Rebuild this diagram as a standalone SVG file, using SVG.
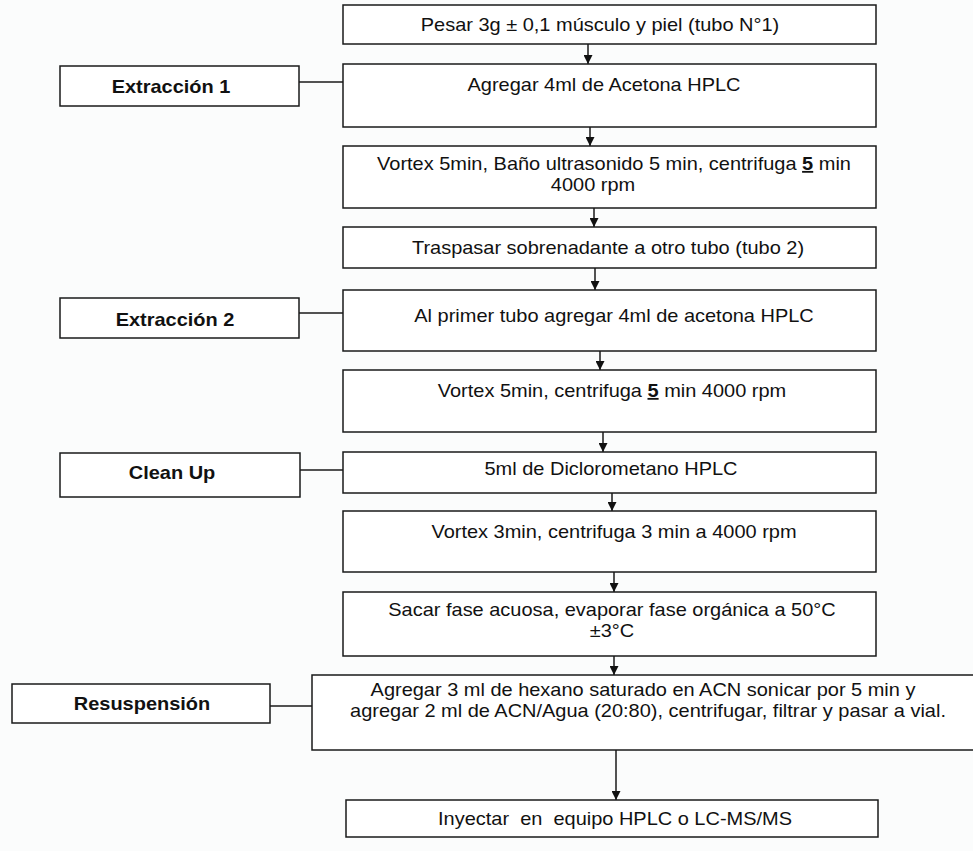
<svg xmlns="http://www.w3.org/2000/svg" width="973" height="851" viewBox="0 0 973 851">
<style>
.box{fill:#ffffff;stroke:#1a1a1a;stroke-width:1.5}
.t{font-family:"Liberation Sans",Arial,sans-serif;font-size:18px;fill:#111;text-anchor:middle}
.b{font-family:"Liberation Sans",Arial,sans-serif;font-size:18px;font-weight:bold;fill:#111;text-anchor:middle}
.c{stroke:#1a1a1a;stroke-width:1.5;fill:none}
.u{font-weight:bold;text-decoration:underline}
.pre{white-space:pre}
</style>
<defs>
<marker id="ah" viewBox="0 0 10 10" refX="10" refY="5" markerWidth="9" markerHeight="9" markerUnits="userSpaceOnUse" orient="auto">
<path d="M0,0 L10,5 L0,10 Z" fill="#111"/>
</marker>
</defs>
<rect width="973" height="851" fill="#fbfcfc"/>
<g id="connectors">
<line class="c" x1="588" y1="44" x2="588" y2="64" marker-end="url(#ah)"/>
<line class="c" x1="590" y1="127" x2="590" y2="146" marker-end="url(#ah)"/>
<line class="c" x1="594" y1="208" x2="594" y2="227" marker-end="url(#ah)"/>
<line class="c" x1="595" y1="268" x2="595" y2="290" marker-end="url(#ah)"/>
<line class="c" x1="600" y1="351" x2="600" y2="370" marker-end="url(#ah)"/>
<line class="c" x1="603" y1="432" x2="603" y2="452" marker-end="url(#ah)"/>
<line class="c" x1="612" y1="493" x2="612" y2="511" marker-end="url(#ah)"/>
<line class="c" x1="614" y1="572" x2="614" y2="592" marker-end="url(#ah)"/>
<line class="c" x1="614" y1="656" x2="614" y2="675" marker-end="url(#ah)"/>
<line class="c" x1="616" y1="750" x2="616" y2="800" marker-end="url(#ah)"/>
<line class="c" x1="299" y1="82" x2="343" y2="82"/>
<line class="c" x1="299" y1="313" x2="343" y2="313"/>
<line class="c" x1="300" y1="470" x2="343" y2="470"/>
<line class="c" x1="270" y1="706" x2="312" y2="706"/>
</g>
<g id="n1"><rect class="box" x="343" y="5" width="533" height="39"/><text class="t" transform="translate(600,31) scale(1.11,1)">Pesar 3g ± 0,1 músculo y piel (tubo N°1)</text></g>
<g id="n2"><rect class="box" x="343" y="64" width="533" height="63"/><text class="t" transform="translate(604,91) scale(1.11,1)">Agregar 4ml de Acetona HPLC</text></g>
<g id="ext1"><rect class="box" x="60" y="66" width="239" height="40"/><text class="b" transform="translate(171,93) scale(1.11,1)">Extracción 1</text></g>
<g id="n3"><rect class="box" x="343" y="146" width="533" height="62"/><text class="t" transform="translate(614,170) scale(1.11,1)">Vortex 5min, Baño ultrasonido 5 min, centrifuga <tspan class="u">5</tspan> min</text><text class="t" transform="translate(593,191) scale(1.11,1)">4000 rpm</text></g>
<g id="n4"><rect class="box" x="343" y="227" width="533" height="41"/><text class="t" transform="translate(608,254) scale(1.11,1)">Traspasar sobrenadante a otro tubo (tubo 2)</text></g>
<g id="n5"><rect class="box" x="343" y="290" width="533" height="61"/><text class="t" transform="translate(614,322) scale(1.11,1)">Al primer tubo agregar 4ml de acetona HPLC</text></g>
<g id="ext2"><rect class="box" x="60" y="298" width="239" height="40"/><text class="b" transform="translate(175,326) scale(1.11,1)">Extracción 2</text></g>
<g id="n6"><rect class="box" x="343" y="370" width="533" height="62"/><text class="t" transform="translate(612,397) scale(1.11,1)">Vortex 5min, centrifuga <tspan class="u">5</tspan> min 4000 rpm</text></g>
<g id="n7"><rect class="box" x="343" y="452" width="533" height="41"/><text class="t" transform="translate(611,475) scale(1.11,1)">5ml de Diclorometano HPLC</text></g>
<g id="clean"><rect class="box" x="60" y="453" width="240" height="44"/><text class="b" transform="translate(172,479) scale(1.11,1)">Clean Up</text></g>
<g id="n8"><rect class="box" x="343" y="511" width="533" height="61"/><text class="t" transform="translate(614,538) scale(1.11,1)">Vortex 3min, centrifuga 3 min a 4000 rpm</text></g>
<g id="n9"><rect class="box" x="343" y="592" width="533" height="64"/><text class="t" transform="translate(612,616) scale(1.11,1)">Sacar fase acuosa, evaporar fase orgánica a 50°C</text><text class="t" transform="translate(612,637) scale(1.11,1)">±3°C</text></g>
<g id="n10"><rect class="box" x="312" y="675" width="680" height="75"/><text class="t" transform="translate(643,696) scale(1.11,1)">Agregar 3 ml de hexano saturado en ACN sonicar por 5 min y</text><text class="t" transform="translate(648,717) scale(1.11,1)">agregar 2 ml de ACN/Agua (20:80), centrifugar, filtrar y pasar a vial.</text></g>
<g id="res"><rect class="box" x="12" y="684" width="258" height="39"/><text class="b" transform="translate(142,710) scale(1.11,1)">Resuspensión</text></g>
<g id="n11"><rect class="box" x="346" y="800" width="532" height="37"/><text class="t pre" xml:space="preserve" transform="translate(615,825) scale(1.11,1)">Inyectar  en  equipo HPLC o LC-MS/MS</text></g>
</svg>
